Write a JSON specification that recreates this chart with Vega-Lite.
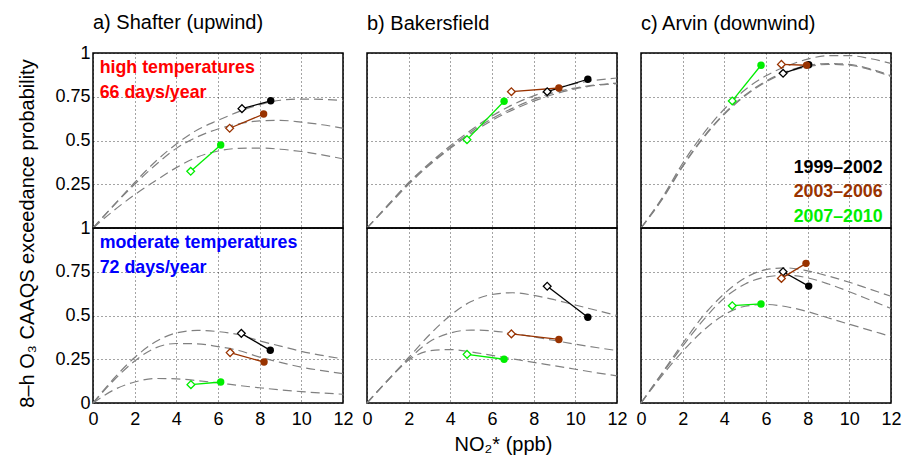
{
"$schema":"https://vega.github.io/schema/vega-lite/v6.json",
"background":"white",
"padding":{"left":17,"top":12,"right":5,"bottom":2},
"bounds":"flush",
"columns":3,
"spacing":{"row":0,"column":24},
"data":{"values":[
{"s":"a","t":"high","k":"curve","g":"1999–2002","x":0,"p":0},{"s":"a","t":"high","k":"curve","g":"1999–2002","x":1,"p":0.13},{"s":"a","t":"high","k":"curve","g":"1999–2002","x":2,"p":0.26},{"s":"a","t":"high","k":"curve","g":"1999–2002","x":3,"p":0.38},{"s":"a","t":"high","k":"curve","g":"1999–2002","x":4,"p":0.48},{"s":"a","t":"high","k":"curve","g":"1999–2002","x":5,"p":0.56},{"s":"a","t":"high","k":"curve","g":"1999–2002","x":6,"p":0.615},{"s":"a","t":"high","k":"curve","g":"1999–2002","x":7,"p":0.665},{"s":"a","t":"high","k":"curve","g":"1999–2002","x":8,"p":0.705},{"s":"a","t":"high","k":"curve","g":"1999–2002","x":9,"p":0.73},{"s":"a","t":"high","k":"curve","g":"1999–2002","x":10,"p":0.737},{"s":"a","t":"high","k":"curve","g":"1999–2002","x":11,"p":0.735},{"s":"a","t":"high","k":"curve","g":"1999–2002","x":12,"p":0.728},
{"s":"a","t":"high","k":"curve","g":"2003–2006","x":0,"p":0},{"s":"a","t":"high","k":"curve","g":"2003–2006","x":1,"p":0.13},{"s":"a","t":"high","k":"curve","g":"2003–2006","x":2,"p":0.25},{"s":"a","t":"high","k":"curve","g":"2003–2006","x":3,"p":0.36},{"s":"a","t":"high","k":"curve","g":"2003–2006","x":4,"p":0.455},{"s":"a","t":"high","k":"curve","g":"2003–2006","x":5,"p":0.52},{"s":"a","t":"high","k":"curve","g":"2003–2006","x":6,"p":0.566},{"s":"a","t":"high","k":"curve","g":"2003–2006","x":7,"p":0.595},{"s":"a","t":"high","k":"curve","g":"2003–2006","x":8,"p":0.612},{"s":"a","t":"high","k":"curve","g":"2003–2006","x":9,"p":0.615},{"s":"a","t":"high","k":"curve","g":"2003–2006","x":10,"p":0.605},{"s":"a","t":"high","k":"curve","g":"2003–2006","x":11,"p":0.59},{"s":"a","t":"high","k":"curve","g":"2003–2006","x":12,"p":0.57},
{"s":"a","t":"high","k":"curve","g":"2007–2010","x":0,"p":0},{"s":"a","t":"high","k":"curve","g":"2007–2010","x":1,"p":0.1},{"s":"a","t":"high","k":"curve","g":"2007–2010","x":2,"p":0.19},{"s":"a","t":"high","k":"curve","g":"2007–2010","x":3,"p":0.27},{"s":"a","t":"high","k":"curve","g":"2007–2010","x":4,"p":0.345},{"s":"a","t":"high","k":"curve","g":"2007–2010","x":5,"p":0.405},{"s":"a","t":"high","k":"curve","g":"2007–2010","x":6,"p":0.44},{"s":"a","t":"high","k":"curve","g":"2007–2010","x":7,"p":0.455},{"s":"a","t":"high","k":"curve","g":"2007–2010","x":8,"p":0.457},{"s":"a","t":"high","k":"curve","g":"2007–2010","x":9,"p":0.45},{"s":"a","t":"high","k":"curve","g":"2007–2010","x":10,"p":0.437},{"s":"a","t":"high","k":"curve","g":"2007–2010","x":11,"p":0.418},{"s":"a","t":"high","k":"curve","g":"2007–2010","x":12,"p":0.395},
{"s":"b","t":"high","k":"curve","g":"1999–2002","x":0,"p":0},{"s":"b","t":"high","k":"curve","g":"1999–2002","x":1,"p":0.13},{"s":"b","t":"high","k":"curve","g":"1999–2002","x":2,"p":0.26},{"s":"b","t":"high","k":"curve","g":"1999–2002","x":3,"p":0.37},{"s":"b","t":"high","k":"curve","g":"1999–2002","x":4,"p":0.47},{"s":"b","t":"high","k":"curve","g":"1999–2002","x":5,"p":0.56},{"s":"b","t":"high","k":"curve","g":"1999–2002","x":6,"p":0.64},{"s":"b","t":"high","k":"curve","g":"1999–2002","x":7,"p":0.705},{"s":"b","t":"high","k":"curve","g":"1999–2002","x":8,"p":0.755},{"s":"b","t":"high","k":"curve","g":"1999–2002","x":9,"p":0.795},{"s":"b","t":"high","k":"curve","g":"1999–2002","x":10,"p":0.825},{"s":"b","t":"high","k":"curve","g":"1999–2002","x":11,"p":0.845},{"s":"b","t":"high","k":"curve","g":"1999–2002","x":12,"p":0.857},
{"s":"b","t":"high","k":"curve","g":"2003–2006","x":0,"p":0},{"s":"b","t":"high","k":"curve","g":"2003–2006","x":1,"p":0.13},{"s":"b","t":"high","k":"curve","g":"2003–2006","x":2,"p":0.255},{"s":"b","t":"high","k":"curve","g":"2003–2006","x":3,"p":0.365},{"s":"b","t":"high","k":"curve","g":"2003–2006","x":4,"p":0.46},{"s":"b","t":"high","k":"curve","g":"2003–2006","x":5,"p":0.55},{"s":"b","t":"high","k":"curve","g":"2003–2006","x":6,"p":0.625},{"s":"b","t":"high","k":"curve","g":"2003–2006","x":7,"p":0.685},{"s":"b","t":"high","k":"curve","g":"2003–2006","x":8,"p":0.735},{"s":"b","t":"high","k":"curve","g":"2003–2006","x":9,"p":0.775},{"s":"b","t":"high","k":"curve","g":"2003–2006","x":10,"p":0.8},{"s":"b","t":"high","k":"curve","g":"2003–2006","x":11,"p":0.818},{"s":"b","t":"high","k":"curve","g":"2003–2006","x":12,"p":0.828},
{"s":"b","t":"high","k":"curve","g":"2007–2010","x":0,"p":0},{"s":"b","t":"high","k":"curve","g":"2007–2010","x":1,"p":0.125},{"s":"b","t":"high","k":"curve","g":"2007–2010","x":2,"p":0.25},{"s":"b","t":"high","k":"curve","g":"2007–2010","x":3,"p":0.36},{"s":"b","t":"high","k":"curve","g":"2007–2010","x":4,"p":0.455},{"s":"b","t":"high","k":"curve","g":"2007–2010","x":5,"p":0.54},{"s":"b","t":"high","k":"curve","g":"2007–2010","x":6,"p":0.615},{"s":"b","t":"high","k":"curve","g":"2007–2010","x":7,"p":0.675},{"s":"b","t":"high","k":"curve","g":"2007–2010","x":8,"p":0.725},{"s":"b","t":"high","k":"curve","g":"2007–2010","x":9,"p":0.765},{"s":"b","t":"high","k":"curve","g":"2007–2010","x":10,"p":0.795},{"s":"b","t":"high","k":"curve","g":"2007–2010","x":11,"p":0.815},{"s":"b","t":"high","k":"curve","g":"2007–2010","x":12,"p":0.825},
{"s":"c","t":"high","k":"curve","g":"1999–2002","x":0,"p":0},{"s":"c","t":"high","k":"curve","g":"1999–2002","x":1,"p":0.17},{"s":"c","t":"high","k":"curve","g":"1999–2002","x":2,"p":0.37},{"s":"c","t":"high","k":"curve","g":"1999–2002","x":3,"p":0.54},{"s":"c","t":"high","k":"curve","g":"1999–2002","x":4,"p":0.68},{"s":"c","t":"high","k":"curve","g":"1999–2002","x":5,"p":0.79},{"s":"c","t":"high","k":"curve","g":"1999–2002","x":6,"p":0.87},{"s":"c","t":"high","k":"curve","g":"1999–2002","x":7,"p":0.925},{"s":"c","t":"high","k":"curve","g":"1999–2002","x":8,"p":0.965},{"s":"c","t":"high","k":"curve","g":"1999–2002","x":9,"p":0.985},{"s":"c","t":"high","k":"curve","g":"1999–2002","x":10,"p":0.985},{"s":"c","t":"high","k":"curve","g":"1999–2002","x":11,"p":0.968},{"s":"c","t":"high","k":"curve","g":"1999–2002","x":12,"p":0.94},
{"s":"c","t":"high","k":"curve","g":"2003–2006","x":0,"p":0},{"s":"c","t":"high","k":"curve","g":"2003–2006","x":1,"p":0.165},{"s":"c","t":"high","k":"curve","g":"2003–2006","x":2,"p":0.355},{"s":"c","t":"high","k":"curve","g":"2003–2006","x":3,"p":0.52},{"s":"c","t":"high","k":"curve","g":"2003–2006","x":4,"p":0.655},{"s":"c","t":"high","k":"curve","g":"2003–2006","x":5,"p":0.76},{"s":"c","t":"high","k":"curve","g":"2003–2006","x":6,"p":0.84},{"s":"c","t":"high","k":"curve","g":"2003–2006","x":7,"p":0.895},{"s":"c","t":"high","k":"curve","g":"2003–2006","x":8,"p":0.928},{"s":"c","t":"high","k":"curve","g":"2003–2006","x":9,"p":0.94},{"s":"c","t":"high","k":"curve","g":"2003–2006","x":10,"p":0.935},{"s":"c","t":"high","k":"curve","g":"2003–2006","x":11,"p":0.91},{"s":"c","t":"high","k":"curve","g":"2003–2006","x":12,"p":0.87},
{"s":"c","t":"high","k":"curve","g":"2007–2010","x":0,"p":0},{"s":"c","t":"high","k":"curve","g":"2007–2010","x":1,"p":0.16},{"s":"c","t":"high","k":"curve","g":"2007–2010","x":2,"p":0.35},{"s":"c","t":"high","k":"curve","g":"2007–2010","x":3,"p":0.515},{"s":"c","t":"high","k":"curve","g":"2007–2010","x":4,"p":0.65},{"s":"c","t":"high","k":"curve","g":"2007–2010","x":5,"p":0.755},{"s":"c","t":"high","k":"curve","g":"2007–2010","x":6,"p":0.835},{"s":"c","t":"high","k":"curve","g":"2007–2010","x":7,"p":0.89},{"s":"c","t":"high","k":"curve","g":"2007–2010","x":8,"p":0.922},{"s":"c","t":"high","k":"curve","g":"2007–2010","x":9,"p":0.935},{"s":"c","t":"high","k":"curve","g":"2007–2010","x":10,"p":0.93},{"s":"c","t":"high","k":"curve","g":"2007–2010","x":11,"p":0.905},{"s":"c","t":"high","k":"curve","g":"2007–2010","x":12,"p":0.865},
{"s":"a","t":"mod","k":"curve","g":"1999–2002","x":0,"p":0},{"s":"a","t":"mod","k":"curve","g":"1999–2002","x":1,"p":0.14},{"s":"a","t":"mod","k":"curve","g":"1999–2002","x":2,"p":0.26},{"s":"a","t":"mod","k":"curve","g":"1999–2002","x":3,"p":0.35},{"s":"a","t":"mod","k":"curve","g":"1999–2002","x":4,"p":0.4},{"s":"a","t":"mod","k":"curve","g":"1999–2002","x":5,"p":0.415},{"s":"a","t":"mod","k":"curve","g":"1999–2002","x":6,"p":0.408},{"s":"a","t":"mod","k":"curve","g":"1999–2002","x":7,"p":0.39},{"s":"a","t":"mod","k":"curve","g":"1999–2002","x":8,"p":0.355},{"s":"a","t":"mod","k":"curve","g":"1999–2002","x":9,"p":0.325},{"s":"a","t":"mod","k":"curve","g":"1999–2002","x":10,"p":0.295},{"s":"a","t":"mod","k":"curve","g":"1999–2002","x":11,"p":0.272},{"s":"a","t":"mod","k":"curve","g":"1999–2002","x":12,"p":0.252},
{"s":"a","t":"mod","k":"curve","g":"2003–2006","x":0,"p":0},{"s":"a","t":"mod","k":"curve","g":"2003–2006","x":1,"p":0.13},{"s":"a","t":"mod","k":"curve","g":"2003–2006","x":2,"p":0.24},{"s":"a","t":"mod","k":"curve","g":"2003–2006","x":3,"p":0.315},{"s":"a","t":"mod","k":"curve","g":"2003–2006","x":4,"p":0.34},{"s":"a","t":"mod","k":"curve","g":"2003–2006","x":5,"p":0.338},{"s":"a","t":"mod","k":"curve","g":"2003–2006","x":6,"p":0.322},{"s":"a","t":"mod","k":"curve","g":"2003–2006","x":7,"p":0.3},{"s":"a","t":"mod","k":"curve","g":"2003–2006","x":8,"p":0.262},{"s":"a","t":"mod","k":"curve","g":"2003–2006","x":9,"p":0.232},{"s":"a","t":"mod","k":"curve","g":"2003–2006","x":10,"p":0.205},{"s":"a","t":"mod","k":"curve","g":"2003–2006","x":11,"p":0.185},{"s":"a","t":"mod","k":"curve","g":"2003–2006","x":12,"p":0.168},
{"s":"a","t":"mod","k":"curve","g":"2007–2010","x":0,"p":0},{"s":"a","t":"mod","k":"curve","g":"2007–2010","x":1,"p":0.075},{"s":"a","t":"mod","k":"curve","g":"2007–2010","x":2,"p":0.12},{"s":"a","t":"mod","k":"curve","g":"2007–2010","x":3,"p":0.14},{"s":"a","t":"mod","k":"curve","g":"2007–2010","x":4,"p":0.138},{"s":"a","t":"mod","k":"curve","g":"2007–2010","x":5,"p":0.128},{"s":"a","t":"mod","k":"curve","g":"2007–2010","x":6,"p":0.115},{"s":"a","t":"mod","k":"curve","g":"2007–2010","x":7,"p":0.1},{"s":"a","t":"mod","k":"curve","g":"2007–2010","x":8,"p":0.087},{"s":"a","t":"mod","k":"curve","g":"2007–2010","x":9,"p":0.075},{"s":"a","t":"mod","k":"curve","g":"2007–2010","x":10,"p":0.065},{"s":"a","t":"mod","k":"curve","g":"2007–2010","x":11,"p":0.057},{"s":"a","t":"mod","k":"curve","g":"2007–2010","x":12,"p":0.05},
{"s":"b","t":"mod","k":"curve","g":"1999–2002","x":0,"p":0},{"s":"b","t":"mod","k":"curve","g":"1999–2002","x":1,"p":0.13},{"s":"b","t":"mod","k":"curve","g":"1999–2002","x":2,"p":0.26},{"s":"b","t":"mod","k":"curve","g":"1999–2002","x":3,"p":0.39},{"s":"b","t":"mod","k":"curve","g":"1999–2002","x":4,"p":0.5},{"s":"b","t":"mod","k":"curve","g":"1999–2002","x":5,"p":0.58},{"s":"b","t":"mod","k":"curve","g":"1999–2002","x":6,"p":0.62},{"s":"b","t":"mod","k":"curve","g":"1999–2002","x":7,"p":0.63},{"s":"b","t":"mod","k":"curve","g":"1999–2002","x":8,"p":0.615},{"s":"b","t":"mod","k":"curve","g":"1999–2002","x":9,"p":0.59},{"s":"b","t":"mod","k":"curve","g":"1999–2002","x":10,"p":0.56},{"s":"b","t":"mod","k":"curve","g":"1999–2002","x":11,"p":0.53},{"s":"b","t":"mod","k":"curve","g":"1999–2002","x":12,"p":0.5},
{"s":"b","t":"mod","k":"curve","g":"2003–2006","x":0,"p":0},{"s":"b","t":"mod","k":"curve","g":"2003–2006","x":1,"p":0.13},{"s":"b","t":"mod","k":"curve","g":"2003–2006","x":2,"p":0.25},{"s":"b","t":"mod","k":"curve","g":"2003–2006","x":3,"p":0.35},{"s":"b","t":"mod","k":"curve","g":"2003–2006","x":4,"p":0.4},{"s":"b","t":"mod","k":"curve","g":"2003–2006","x":5,"p":0.417},{"s":"b","t":"mod","k":"curve","g":"2003–2006","x":6,"p":0.412},{"s":"b","t":"mod","k":"curve","g":"2003–2006","x":7,"p":0.398},{"s":"b","t":"mod","k":"curve","g":"2003–2006","x":8,"p":0.378},{"s":"b","t":"mod","k":"curve","g":"2003–2006","x":9,"p":0.357},{"s":"b","t":"mod","k":"curve","g":"2003–2006","x":10,"p":0.336},{"s":"b","t":"mod","k":"curve","g":"2003–2006","x":11,"p":0.317},{"s":"b","t":"mod","k":"curve","g":"2003–2006","x":12,"p":0.3},
{"s":"b","t":"mod","k":"curve","g":"2007–2010","x":0,"p":0},{"s":"b","t":"mod","k":"curve","g":"2007–2010","x":1,"p":0.13},{"s":"b","t":"mod","k":"curve","g":"2007–2010","x":2,"p":0.245},{"s":"b","t":"mod","k":"curve","g":"2007–2010","x":3,"p":0.298},{"s":"b","t":"mod","k":"curve","g":"2007–2010","x":4,"p":0.305},{"s":"b","t":"mod","k":"curve","g":"2007–2010","x":5,"p":0.292},{"s":"b","t":"mod","k":"curve","g":"2007–2010","x":6,"p":0.272},{"s":"b","t":"mod","k":"curve","g":"2007–2010","x":7,"p":0.252},{"s":"b","t":"mod","k":"curve","g":"2007–2010","x":8,"p":0.232},{"s":"b","t":"mod","k":"curve","g":"2007–2010","x":9,"p":0.213},{"s":"b","t":"mod","k":"curve","g":"2007–2010","x":10,"p":0.193},{"s":"b","t":"mod","k":"curve","g":"2007–2010","x":11,"p":0.173},{"s":"b","t":"mod","k":"curve","g":"2007–2010","x":12,"p":0.155},
{"s":"c","t":"mod","k":"curve","g":"1999–2002","x":0,"p":0},{"s":"c","t":"mod","k":"curve","g":"1999–2002","x":1,"p":0.17},{"s":"c","t":"mod","k":"curve","g":"1999–2002","x":2,"p":0.34},{"s":"c","t":"mod","k":"curve","g":"1999–2002","x":3,"p":0.5},{"s":"c","t":"mod","k":"curve","g":"1999–2002","x":4,"p":0.625},{"s":"c","t":"mod","k":"curve","g":"1999–2002","x":5,"p":0.715},{"s":"c","t":"mod","k":"curve","g":"1999–2002","x":6,"p":0.762},{"s":"c","t":"mod","k":"curve","g":"1999–2002","x":7,"p":0.772},{"s":"c","t":"mod","k":"curve","g":"1999–2002","x":8,"p":0.755},{"s":"c","t":"mod","k":"curve","g":"1999–2002","x":9,"p":0.725},{"s":"c","t":"mod","k":"curve","g":"1999–2002","x":10,"p":0.69},{"s":"c","t":"mod","k":"curve","g":"1999–2002","x":11,"p":0.65},{"s":"c","t":"mod","k":"curve","g":"1999–2002","x":12,"p":0.61},
{"s":"c","t":"mod","k":"curve","g":"2003–2006","x":0,"p":0},{"s":"c","t":"mod","k":"curve","g":"2003–2006","x":1,"p":0.165},{"s":"c","t":"mod","k":"curve","g":"2003–2006","x":2,"p":0.325},{"s":"c","t":"mod","k":"curve","g":"2003–2006","x":3,"p":0.475},{"s":"c","t":"mod","k":"curve","g":"2003–2006","x":4,"p":0.6},{"s":"c","t":"mod","k":"curve","g":"2003–2006","x":5,"p":0.68},{"s":"c","t":"mod","k":"curve","g":"2003–2006","x":6,"p":0.72},{"s":"c","t":"mod","k":"curve","g":"2003–2006","x":7,"p":0.73},{"s":"c","t":"mod","k":"curve","g":"2003–2006","x":8,"p":0.715},{"s":"c","t":"mod","k":"curve","g":"2003–2006","x":9,"p":0.68},{"s":"c","t":"mod","k":"curve","g":"2003–2006","x":10,"p":0.636},{"s":"c","t":"mod","k":"curve","g":"2003–2006","x":11,"p":0.588},{"s":"c","t":"mod","k":"curve","g":"2003–2006","x":12,"p":0.54},
{"s":"c","t":"mod","k":"curve","g":"2007–2010","x":0,"p":0},{"s":"c","t":"mod","k":"curve","g":"2007–2010","x":1,"p":0.155},{"s":"c","t":"mod","k":"curve","g":"2007–2010","x":2,"p":0.295},{"s":"c","t":"mod","k":"curve","g":"2007–2010","x":3,"p":0.415},{"s":"c","t":"mod","k":"curve","g":"2007–2010","x":4,"p":0.505},{"s":"c","t":"mod","k":"curve","g":"2007–2010","x":5,"p":0.553},{"s":"c","t":"mod","k":"curve","g":"2007–2010","x":6,"p":0.563},{"s":"c","t":"mod","k":"curve","g":"2007–2010","x":7,"p":0.55},{"s":"c","t":"mod","k":"curve","g":"2007–2010","x":8,"p":0.522},{"s":"c","t":"mod","k":"curve","g":"2007–2010","x":9,"p":0.486},{"s":"c","t":"mod","k":"curve","g":"2007–2010","x":10,"p":0.45},{"s":"c","t":"mod","k":"curve","g":"2007–2010","x":11,"p":0.415},{"s":"c","t":"mod","k":"curve","g":"2007–2010","x":12,"p":0.38},
{"s":"a","t":"high","k":"obs","g":"1999–2002","m":"d","x":7.15,"p":0.682},{"s":"a","t":"high","k":"obs","g":"1999–2002","m":"c","x":8.53,"p":0.727},
{"s":"a","t":"high","k":"obs","g":"2003–2006","m":"d","x":6.56,"p":0.57},{"s":"a","t":"high","k":"obs","g":"2003–2006","m":"c","x":8.19,"p":0.651},
{"s":"a","t":"high","k":"obs","g":"2007–2010","m":"d","x":4.69,"p":0.324},{"s":"a","t":"high","k":"obs","g":"2007–2010","m":"c","x":6.13,"p":0.474},
{"s":"b","t":"high","k":"obs","g":"1999–2002","m":"d","x":8.65,"p":0.779},{"s":"b","t":"high","k":"obs","g":"1999–2002","m":"c","x":10.6,"p":0.85},
{"s":"b","t":"high","k":"obs","g":"2003–2006","m":"d","x":6.93,"p":0.779},{"s":"b","t":"high","k":"obs","g":"2003–2006","m":"c","x":9.21,"p":0.8},
{"s":"b","t":"high","k":"obs","g":"2007–2010","m":"d","x":4.8,"p":0.505},{"s":"b","t":"high","k":"obs","g":"2007–2010","m":"c","x":6.58,"p":0.724},
{"s":"c","t":"high","k":"obs","g":"1999–2002","m":"d","x":6.82,"p":0.884},{"s":"c","t":"high","k":"obs","g":"1999–2002","m":"c","x":8.05,"p":0.933},
{"s":"c","t":"high","k":"obs","g":"2003–2006","m":"d","x":6.74,"p":0.935},{"s":"c","t":"high","k":"obs","g":"2003–2006","m":"c","x":7.95,"p":0.93},
{"s":"c","t":"high","k":"obs","g":"2007–2010","m":"d","x":4.38,"p":0.726},{"s":"c","t":"high","k":"obs","g":"2007–2010","m":"c","x":5.76,"p":0.93},
{"s":"a","t":"mod","k":"obs","g":"1999–2002","m":"d","x":7.12,"p":0.398},{"s":"a","t":"mod","k":"obs","g":"1999–2002","m":"c","x":8.51,"p":0.301},
{"s":"a","t":"mod","k":"obs","g":"2003–2006","m":"d","x":6.58,"p":0.288},{"s":"a","t":"mod","k":"obs","g":"2003–2006","m":"c","x":8.21,"p":0.234},
{"s":"a","t":"mod","k":"obs","g":"2007–2010","m":"d","x":4.7,"p":0.105},{"s":"a","t":"mod","k":"obs","g":"2007–2010","m":"c","x":6.13,"p":0.12},
{"s":"b","t":"mod","k":"obs","g":"1999–2002","m":"d","x":8.65,"p":0.667},{"s":"b","t":"mod","k":"obs","g":"1999–2002","m":"c","x":10.6,"p":0.49},
{"s":"b","t":"mod","k":"obs","g":"2003–2006","m":"d","x":6.93,"p":0.395},{"s":"b","t":"mod","k":"obs","g":"2003–2006","m":"c","x":9.21,"p":0.363},
{"s":"b","t":"mod","k":"obs","g":"2007–2010","m":"d","x":4.8,"p":0.278},{"s":"b","t":"mod","k":"obs","g":"2007–2010","m":"c","x":6.58,"p":0.25},
{"s":"c","t":"mod","k":"obs","g":"1999–2002","m":"d","x":6.82,"p":0.75},{"s":"c","t":"mod","k":"obs","g":"1999–2002","m":"c","x":8.05,"p":0.668},
{"s":"c","t":"mod","k":"obs","g":"2003–2006","m":"d","x":6.74,"p":0.712},{"s":"c","t":"mod","k":"obs","g":"2003–2006","m":"c","x":7.92,"p":0.798},
{"s":"c","t":"mod","k":"obs","g":"2007–2010","m":"d","x":4.38,"p":0.556},{"s":"c","t":"mod","k":"obs","g":"2007–2010","m":"c","x":5.76,"p":0.566},
{"s":"a","t":"high","k":"label","label":"high temperatures","x":0.32,"p":0.886},
{"s":"a","t":"high","k":"label","label":"66 days/year","x":0.32,"p":0.741},
{"s":"a","t":"mod","k":"label","label":"moderate temperatures","x":0.32,"p":0.887},
{"s":"a","t":"mod","k":"label","label":"72 days/year","x":0.32,"p":0.741},
{"s":"c","t":"high","k":"legend","g":"1999–2002","label":"1999–2002","x":11.6,"p":0.314},
{"s":"c","t":"high","k":"legend","g":"2003–2006","label":"2003–2006","x":11.6,"p":0.175},
{"s":"c","t":"high","k":"legend","g":"2007–2010","label":"2007–2010","x":11.6,"p":0.033}
]},
"concat":[
{"width":250,"height":175,
 "title":{"text":"a) Shafter (upwind)","anchor":"start","frame":"group","offset":-5,"baseline":"alphabetic"},
 "transform":[{"filter":"datum.s==='a' && datum.t==='high'"}],
 "encoding":{
  "x":{"field":"x","type":"quantitative","scale":{"domain":[0,12],"nice":false,"zero":false},"axis":{"values":[0,2,4,6,8,10,12],"labels":false,"title":null}},
  "y":{"field":"p","type":"quantitative","scale":{"domain":[0,1],"nice":false},"axis":{"values":[0.25,0.5,0.75,1],"title":null}}},
 "layer":[
  {"transform":[{"filter":"datum.k==='curve'"}],"mark":{"type":"line","color":"#808080","strokeDash":[9,5],"strokeWidth":1.2,"interpolate":"monotone"},"encoding":{"detail":{"field":"g","type":"nominal"}}},
  {"transform":[{"filter":"datum.k==='obs'"}],"mark":{"type":"line","strokeWidth":1.3},"encoding":{"color":{"field":"g","type":"nominal","scale":{"domain":["1999–2002","2003–2006","2007–2010"],"range":["#000000","#993300","#00ee00"]},"legend":null}}},
  {"transform":[{"filter":"datum.k==='obs' && datum.m==='d'"}],"mark":{"type":"point","shape":"diamond","filled":false,"fill":"#ffffff","size":60,"strokeWidth":1.3,"opacity":1},"encoding":{"color":{"field":"g","type":"nominal","legend":null}}},
  {"transform":[{"filter":"datum.k==='obs' && datum.m==='c'"}],"mark":{"type":"point","shape":"circle","filled":true,"size":55,"opacity":1},"encoding":{"color":{"field":"g","type":"nominal","legend":null}}},
  {"transform":[{"filter":"datum.k==='label'"}],"mark":{"type":"text","align":"left","baseline":"alphabetic","fontSize":17.8,"fontWeight":"bold","color":"#ff0000"},"encoding":{"text":{"field":"label","type":"nominal"}}}
 ]},
{"width":250,"height":175,
 "title":{"text":"b) Bakersfield","anchor":"start","frame":"group","offset":3,"baseline":"alphabetic"},
 "transform":[{"filter":"datum.s==='b' && datum.t==='high'"}],
 "encoding":{
  "x":{"field":"x","type":"quantitative","scale":{"domain":[0,12],"nice":false,"zero":false},"axis":{"values":[0,2,4,6,8,10,12],"labels":false,"title":null}},
  "y":{"field":"p","type":"quantitative","scale":{"domain":[0,1],"nice":false},"axis":{"values":[0.25,0.5,0.75,1],"labels":false,"title":null}}},
 "layer":[
  {"transform":[{"filter":"datum.k==='curve'"}],"mark":{"type":"line","color":"#808080","strokeDash":[9,5],"strokeWidth":1.2,"interpolate":"monotone"},"encoding":{"detail":{"field":"g","type":"nominal"}}},
  {"transform":[{"filter":"datum.k==='obs'"}],"mark":{"type":"line","strokeWidth":1.3},"encoding":{"color":{"field":"g","type":"nominal","scale":{"domain":["1999–2002","2003–2006","2007–2010"],"range":["#000000","#993300","#00ee00"]},"legend":null}}},
  {"transform":[{"filter":"datum.k==='obs' && datum.m==='d'"}],"mark":{"type":"point","shape":"diamond","filled":false,"fill":"#ffffff","size":60,"strokeWidth":1.3,"opacity":1},"encoding":{"color":{"field":"g","type":"nominal","legend":null}}},
  {"transform":[{"filter":"datum.k==='obs' && datum.m==='c'"}],"mark":{"type":"point","shape":"circle","filled":true,"size":55,"opacity":1},"encoding":{"color":{"field":"g","type":"nominal","legend":null}}}
 ]},
{"width":250,"height":175,
 "title":{"text":"c) Arvin (downwind)","anchor":"start","frame":"group","offset":3,"baseline":"alphabetic"},
 "transform":[{"filter":"datum.s==='c' && datum.t==='high'"}],
 "encoding":{
  "x":{"field":"x","type":"quantitative","scale":{"domain":[0,12],"nice":false,"zero":false},"axis":{"values":[0,2,4,6,8,10,12],"labels":false,"title":null}},
  "y":{"field":"p","type":"quantitative","scale":{"domain":[0,1],"nice":false},"axis":{"values":[0.25,0.5,0.75,1],"labels":false,"title":null}}},
 "layer":[
  {"transform":[{"filter":"datum.k==='curve'"}],"mark":{"type":"line","color":"#808080","strokeDash":[9,5],"strokeWidth":1.2,"interpolate":"monotone"},"encoding":{"detail":{"field":"g","type":"nominal"}}},
  {"transform":[{"filter":"datum.k==='obs'"}],"mark":{"type":"line","strokeWidth":1.3},"encoding":{"color":{"field":"g","type":"nominal","scale":{"domain":["1999–2002","2003–2006","2007–2010"],"range":["#000000","#993300","#00ee00"]},"legend":null}}},
  {"transform":[{"filter":"datum.k==='obs' && datum.m==='d'"}],"mark":{"type":"point","shape":"diamond","filled":false,"fill":"#ffffff","size":60,"strokeWidth":1.3,"opacity":1},"encoding":{"color":{"field":"g","type":"nominal","legend":null}}},
  {"transform":[{"filter":"datum.k==='obs' && datum.m==='c'"}],"mark":{"type":"point","shape":"circle","filled":true,"size":55,"opacity":1},"encoding":{"color":{"field":"g","type":"nominal","legend":null}}},
  {"transform":[{"filter":"datum.k==='legend'"}],"mark":{"type":"text","align":"right","baseline":"alphabetic","fontSize":17.8,"fontWeight":"bold"},"encoding":{"text":{"field":"label","type":"nominal"},"color":{"field":"g","type":"nominal","legend":null}}}
 ]},
{"width":250,"height":175,
 "transform":[{"filter":"datum.s==='a' && datum.t==='mod'"}],
 "encoding":{
  "x":{"field":"x","type":"quantitative","scale":{"domain":[0,12],"nice":false,"zero":false},"axis":{"values":[0,2,4,6,8,10,12],"title":null}},
  "y":{"field":"p","type":"quantitative","scale":{"domain":[0,1],"nice":false},"axis":{"values":[0,0.25,0.5,0.75,1],"title":"8–h O₃ CAAQS exceedance probability","titleY":5,"titlePadding":17}}},
 "layer":[
  {"transform":[{"filter":"datum.k==='curve'"}],"mark":{"type":"line","color":"#808080","strokeDash":[9,5],"strokeWidth":1.2,"interpolate":"monotone"},"encoding":{"detail":{"field":"g","type":"nominal"}}},
  {"transform":[{"filter":"datum.k==='obs'"}],"mark":{"type":"line","strokeWidth":1.3},"encoding":{"color":{"field":"g","type":"nominal","scale":{"domain":["1999–2002","2003–2006","2007–2010"],"range":["#000000","#993300","#00ee00"]},"legend":null}}},
  {"transform":[{"filter":"datum.k==='obs' && datum.m==='d'"}],"mark":{"type":"point","shape":"diamond","filled":false,"fill":"#ffffff","size":60,"strokeWidth":1.3,"opacity":1},"encoding":{"color":{"field":"g","type":"nominal","legend":null}}},
  {"transform":[{"filter":"datum.k==='obs' && datum.m==='c'"}],"mark":{"type":"point","shape":"circle","filled":true,"size":55,"opacity":1},"encoding":{"color":{"field":"g","type":"nominal","legend":null}}},
  {"transform":[{"filter":"datum.k==='label'"}],"mark":{"type":"text","align":"left","baseline":"alphabetic","fontSize":17.8,"fontWeight":"bold","color":"#0000ff"},"encoding":{"text":{"field":"label","type":"nominal"}}}
 ]},
{"width":250,"height":175,
 "transform":[{"filter":"datum.s==='b' && datum.t==='mod'"}],
 "encoding":{
  "x":{"field":"x","type":"quantitative","scale":{"domain":[0,12],"nice":false,"zero":false},"axis":{"values":[0,2,4,6,8,10,12],"title":"NO₂* (ppb)","titlePadding":6,"titleX":136}},
  "y":{"field":"p","type":"quantitative","scale":{"domain":[0,1],"nice":false},"axis":{"values":[0,0.25,0.5,0.75,1],"labels":false,"title":null}}},
 "layer":[
  {"transform":[{"filter":"datum.k==='curve'"}],"mark":{"type":"line","color":"#808080","strokeDash":[9,5],"strokeWidth":1.2,"interpolate":"monotone"},"encoding":{"detail":{"field":"g","type":"nominal"}}},
  {"transform":[{"filter":"datum.k==='obs'"}],"mark":{"type":"line","strokeWidth":1.3},"encoding":{"color":{"field":"g","type":"nominal","scale":{"domain":["1999–2002","2003–2006","2007–2010"],"range":["#000000","#993300","#00ee00"]},"legend":null}}},
  {"transform":[{"filter":"datum.k==='obs' && datum.m==='d'"}],"mark":{"type":"point","shape":"diamond","filled":false,"fill":"#ffffff","size":60,"strokeWidth":1.3,"opacity":1},"encoding":{"color":{"field":"g","type":"nominal","legend":null}}},
  {"transform":[{"filter":"datum.k==='obs' && datum.m==='c'"}],"mark":{"type":"point","shape":"circle","filled":true,"size":55,"opacity":1},"encoding":{"color":{"field":"g","type":"nominal","legend":null}}}
 ]},
{"width":250,"height":175,
 "transform":[{"filter":"datum.s==='c' && datum.t==='mod'"}],
 "encoding":{
  "x":{"field":"x","type":"quantitative","scale":{"domain":[0,12],"nice":false,"zero":false},"axis":{"values":[0,2,4,6,8,10,12],"title":null}},
  "y":{"field":"p","type":"quantitative","scale":{"domain":[0,1],"nice":false},"axis":{"values":[0,0.25,0.5,0.75,1],"labels":false,"title":null}}},
 "layer":[
  {"transform":[{"filter":"datum.k==='curve'"}],"mark":{"type":"line","color":"#808080","strokeDash":[9,5],"strokeWidth":1.2,"interpolate":"monotone"},"encoding":{"detail":{"field":"g","type":"nominal"}}},
  {"transform":[{"filter":"datum.k==='obs'"}],"mark":{"type":"line","strokeWidth":1.3},"encoding":{"color":{"field":"g","type":"nominal","scale":{"domain":["1999–2002","2003–2006","2007–2010"],"range":["#000000","#993300","#00ee00"]},"legend":null}}},
  {"transform":[{"filter":"datum.k==='obs' && datum.m==='d'"}],"mark":{"type":"point","shape":"diamond","filled":false,"fill":"#ffffff","size":60,"strokeWidth":1.3,"opacity":1},"encoding":{"color":{"field":"g","type":"nominal","legend":null}}},
  {"transform":[{"filter":"datum.k==='obs' && datum.m==='c'"}],"mark":{"type":"point","shape":"circle","filled":true,"size":55,"opacity":1},"encoding":{"color":{"field":"g","type":"nominal","legend":null}}}
 ]}
],
"config":{
 "font":"Liberation Sans",
 "view":{"stroke":"#000000","strokeWidth":1.5},
 "axis":{"grid":true,"gridColor":"#000000","gridDash":[1,3],"gridWidth":0.8,"gridOpacity":0.9,"domain":false,"ticks":false,"labelFont":"Liberation Sans","labelFontSize":18,"labelColor":"#000000","labelFlush":false,"labelOverlap":false,"labelExpr":"datum.value + ''","titleFont":"Liberation Sans","titleFontSize":20,"titleFontWeight":"normal","titleColor":"#000000"},
 "axisX":{"labelPadding":7},
 "axisY":{"labelPadding":3},
 "title":{"font":"Liberation Sans","fontSize":20,"fontWeight":"normal","color":"#000000"},
 "text":{"font":"Liberation Sans"}
}
}
